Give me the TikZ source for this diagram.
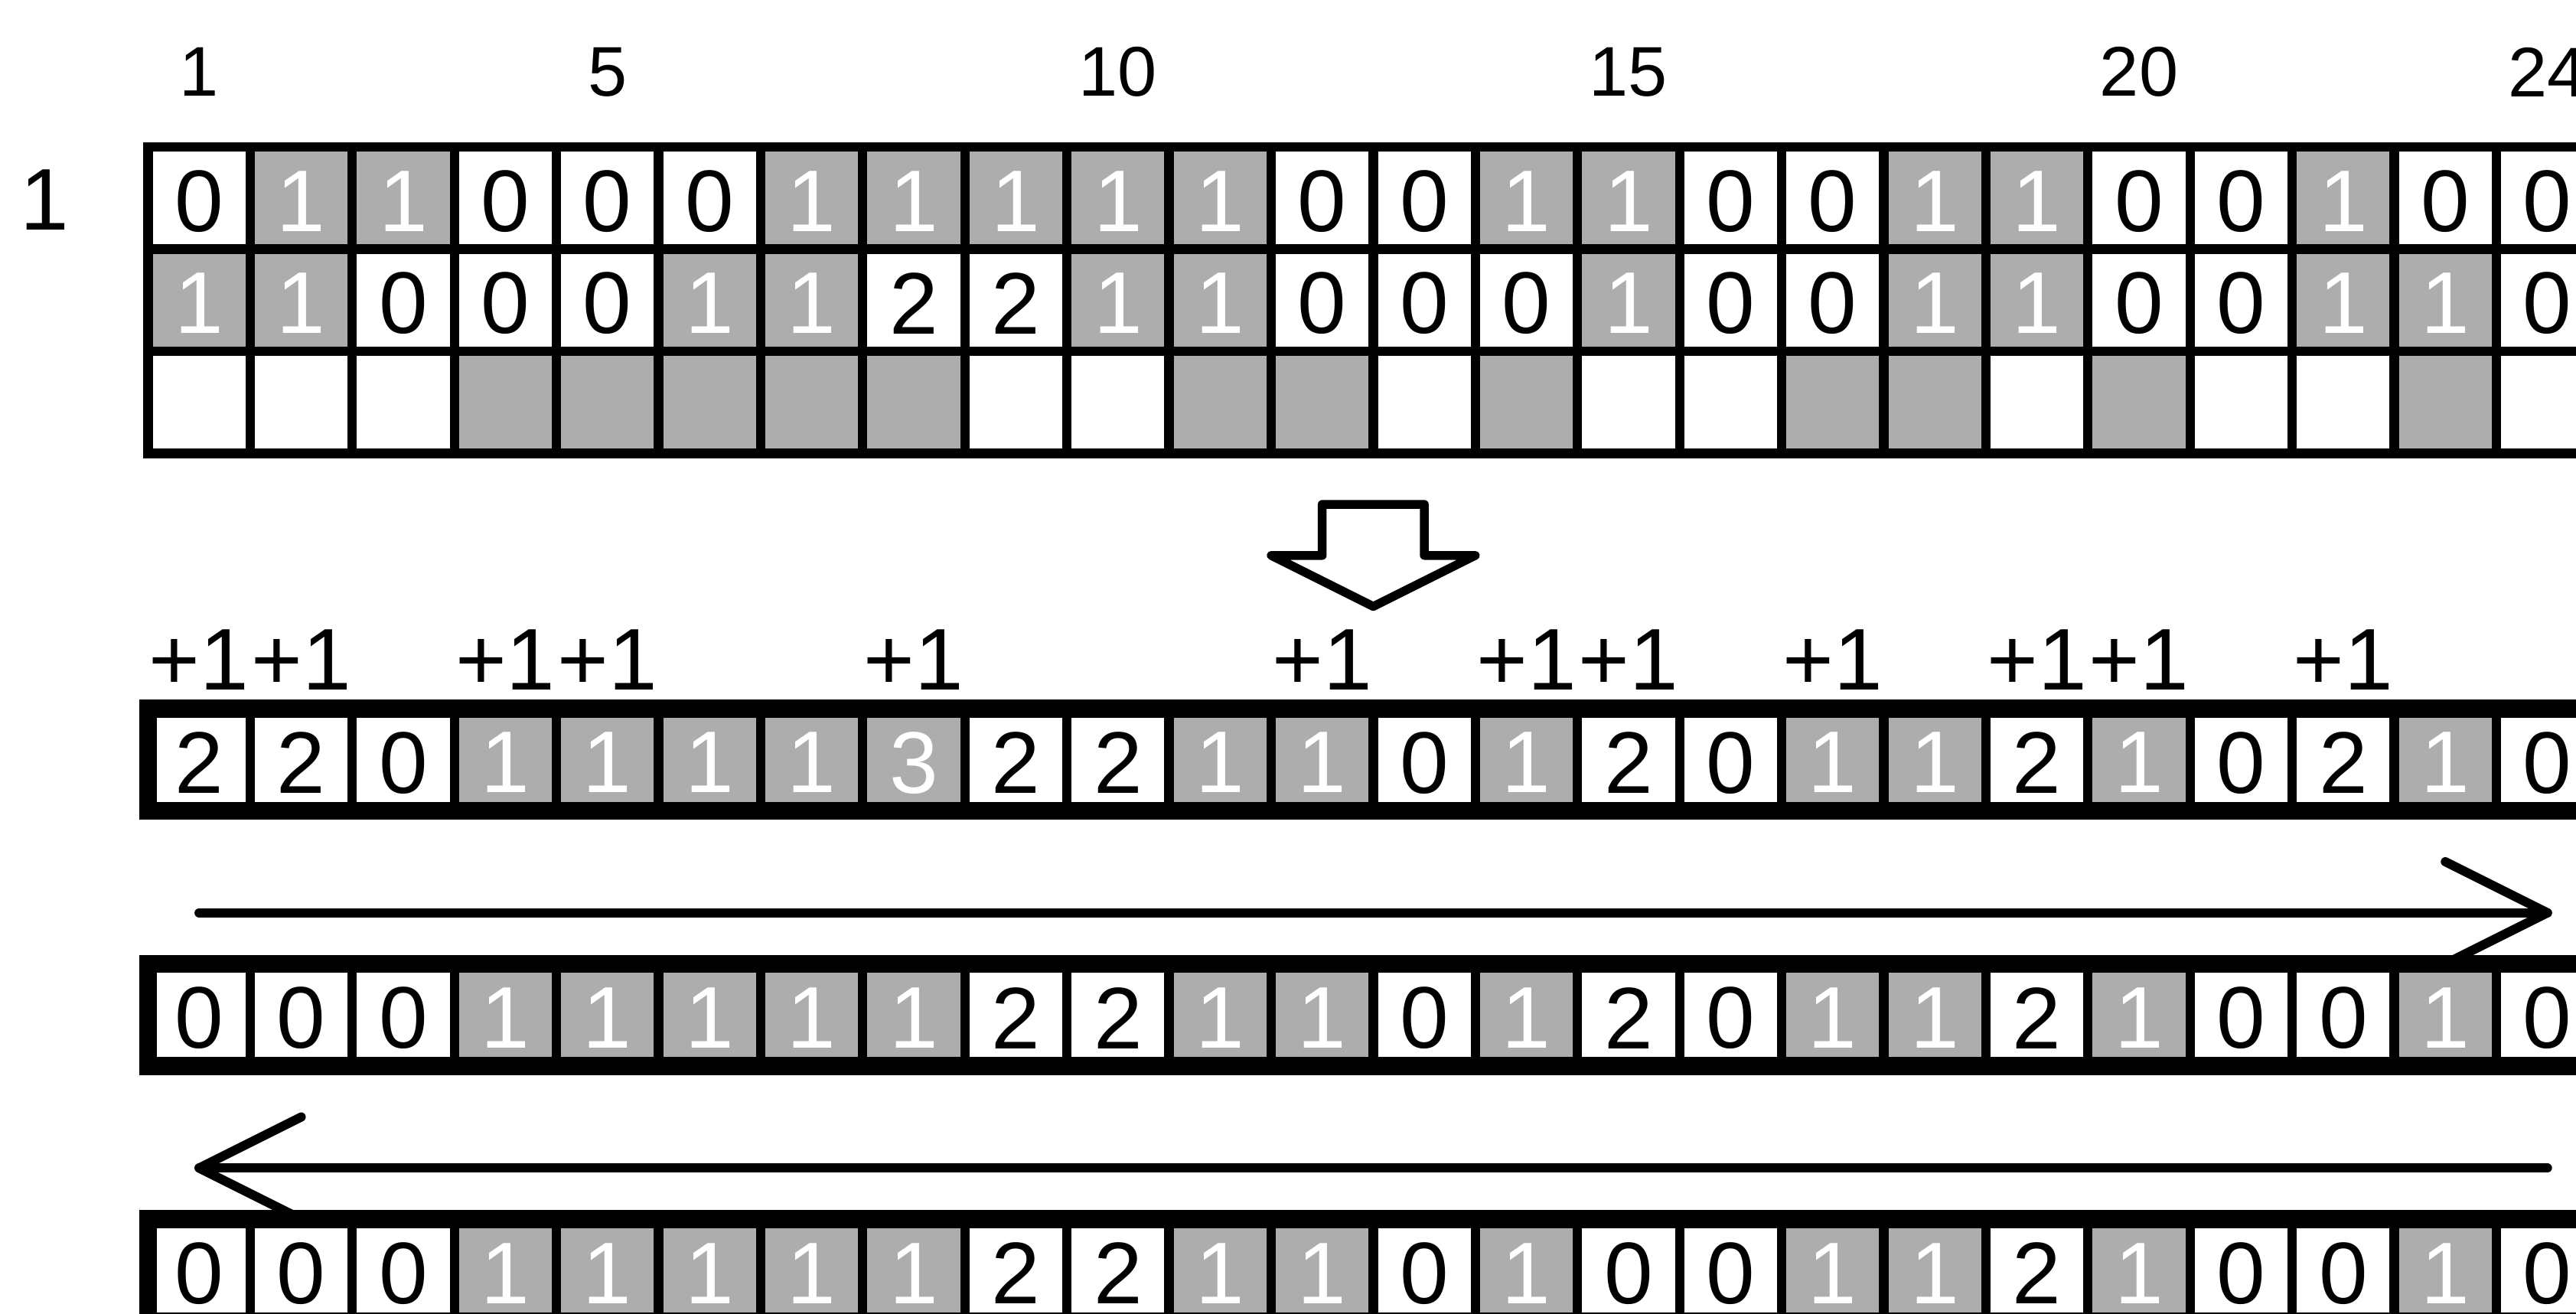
\documentclass[tikz,border=0pt]{standalone}
\usepackage{fontspec}
\setmainfont{Liberation Sans}
\definecolor{cellgray}{RGB}{173,173,173}
\tikzset{
  num/.style={font=\fontsize{24.4}{29}\selectfont},
  idx/.style={font=\fontsize{19.6}{23}\selectfont},
  thin line/.style={line width=0.092cm},
  frame line/.style={line width=0.175cm},
  arrow line/.style={line width=0.09cm,line cap=round,line join=round}
}
\begin{document}
\begin{tikzpicture}
\fill[white] (-1.45,1.44) rectangle (23.78,-11.425);
\useasboundingbox (-1.45,1.44) rectangle (23.78,-11.425);
\coordinate (r0) at (0.5,-7.5);
\coordinate (r1) at (23.5,-7.5);
\coordinate (l0) at (23.5,-10);
\coordinate (l1) at (0.5,-10);
\draw[arrow line] (r0) -- (r1);
\draw[arrow line] (r1) ++(-1,0.5) -- (r1) -- ++(-1,-0.5);
\draw[arrow line] (l0) -- (l1);
\draw[arrow line] (l1) ++(1,0.5) -- (l1) -- ++(1,-0.5);
\foreach \c in {1,5,10,15,20,24}
    \draw (\c-0.5,0.735) node[idx] (col\c) {\c};
\draw (-1.01,-0.52) node[num] (row1) {1};
\foreach \r/\y/\vals in {ta/0/{0,1,1,0,0,0,1,1,1,1,1,0,0,1,1,0,0,1,1,0,0,1,0,0},
                         tb/-1/{1,1,0,0,0,1,1,2,2,1,1,0,0,0,1,0,0,1,1,0,0,1,1,0},
                         A/-5.5/{2,2,0,1,1,1,1,3,2,2,1,1,0,1,2,0,1,1,2,1,0,2,1,0},
                         B/-8/{0,0,0,1,1,1,1,1,2,2,1,1,0,1,2,0,1,1,2,1,0,0,1,0},
                         C/-10.5/{0,0,0,1,1,1,1,1,2,2,1,1,0,1,0,0,1,1,2,1,0,0,1,0}}
    \foreach \v [count=\i] in \vals {
        \ifodd\v \fill[cellgray] (\i-1,\y) rectangle ++(1,-1); \def\tc{white}\else \def\tc{black}\fi
        \draw (\i-0.5,\y-0.53) node[num,text=\tc] (\r-\i) {\v};
    }
\foreach \i in {4,5,6,7,8,11,12,14,17,18,20,23}
    \fill[cellgray] (\i-1,-2) rectangle ++(1,-1);
\draw[thin line,line cap=rect] (0,0) grid (24,-3);
\draw[line width=0.086cm,line join=round] (11.5,-3.5) -- (12.5,-3.5) -- (12.5,-4) -- (13,-4)
    -- (12,-4.5) -- (11,-4) -- (11.5,-4) -- cycle;
\foreach \c in {1,2,4,5,8,12,14,15,17,19,20,22}
    \draw (\c-0.5,-5.02) node[num] (plus\c) {+1};
\foreach \y in {-5.5,-8,-10.5} {
    \foreach \i in {1,...,23}
        \draw[thin line] (\i,\y) -- (\i,\y-1);
    \draw[frame line] (0,\y) rectangle (24,\y-1);
}
\end{tikzpicture}
\end{document}
